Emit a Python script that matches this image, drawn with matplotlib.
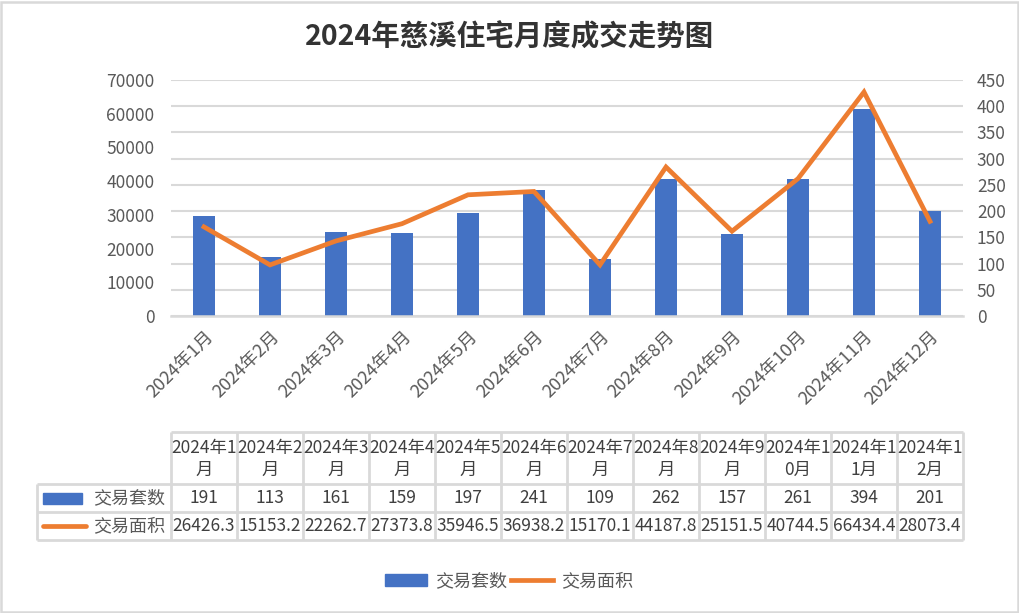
import matplotlib
matplotlib.use("Agg")
import matplotlib.pyplot as plt
from matplotlib.patches import Rectangle
from matplotlib.lines import Line2D
import numpy as np

plt.rcParams['font.family'] = ['Noto Sans CJK SC', 'DejaVu Sans']

# ---- data ----
months = ["2024年1月", "2024年2月", "2024年3月", "2024年4月", "2024年5月", "2024年6月",
          "2024年7月", "2024年8月", "2024年9月", "2024年10月", "2024年11月", "2024年12月"]
header_labels = ["2024年1\n月", "2024年2\n月", "2024年3\n月", "2024年4\n月", "2024年5\n月",
                 "2024年6\n月", "2024年7\n月", "2024年8\n月", "2024年9\n月", "2024年1\n0月",
                 "2024年1\n1月", "2024年1\n2月"]
counts = [191, 113, 161, 159, 197, 241, 109, 262, 157, 261, 394, 201]
areas = [26426.3, 15153.2, 22262.7, 27373.8, 35946.5, 36938.2, 15170.1, 44187.8,
         25151.5, 40744.5, 66434.4, 28073.4]
count_label = "交易套数"
area_label = "交易面积"
title = "2024年慈溪住宅月度成交走势图"
left_ticks = [0, 10000, 20000, 30000, 40000, 50000, 60000, 70000]
right_ticks = [0, 50, 100, 150, 200, 250, 300, 350, 400, 450]

# ---- style ----
W, H = 1020, 613
BLUE = "#4472C4"
ORANGE = "#ED7D31"
GRID = "#D9D9D9"
TXT = "#595959"
TTXT = "#404040"
FS = 12.5
FSC = 13

fig = plt.figure(figsize=(W / 100, H / 100), dpi=100)
fig.patch.set_facecolor("white")
fig.add_artist(Rectangle((0.001, 0.002), 0.997, 0.995, transform=fig.transFigure,
                         fill=False, edgecolor=GRID, lw=1.8))

L, R, T, B = 171, 963, 80, 316
ax = fig.add_axes([L / W, 1 - B / H, (R - L) / W, (B - T) / H])
ax2 = ax.twinx()

x = np.arange(len(months))

# bars on the (right-ticked) count scale
ax.bar(x, counts, width=0.32, color=BLUE, zorder=2)
ax.set_ylim(0, 450)
ax.set_xlim(-0.5, len(months) - 0.5)
ax.yaxis.tick_right()
ax.set_yticks(right_ticks)
ax.grid(axis="y", color=GRID, lw=1.5, zorder=0)
ax.set_axisbelow(True)

# line on the (left-ticked) area scale
ax2.plot(x, areas, color=ORANGE, lw=3.4, solid_joinstyle="miter", zorder=3)
ax2.set_ylim(0, 70000)
ax2.yaxis.tick_left()
ax2.set_yticks(left_ticks)

for a in (ax, ax2):
    for s in a.spines.values():
        s.set_visible(False)
    a.tick_params(axis="y", length=0, labelsize=FS, labelcolor=TXT)
ax.tick_params(axis="y", pad=10)
ax2.tick_params(axis="y", pad=12)

ax.spines["bottom"].set_visible(True)
ax.spines["bottom"].set_color(GRID)
ax.spines["bottom"].set_linewidth(1.8)
ax.set_xticks(np.arange(-0.5, len(months), 1.0))
ax.set_xticklabels([])
ax.tick_params(axis="x", which="major", length=6, width=1.5, color=GRID)
ax.set_xticks(x, minor=True)
ax.set_xticklabels(months, minor=True, rotation=45, ha="right", rotation_mode="anchor",
                   fontsize=FSC, color=TXT)
ax.tick_params(axis="x", which="minor", length=0, pad=8)
ax2.set_xticks([])

fig.text(0.5, 1 - 37 / H, title, ha="center", va="center", fontsize=20.5,
         fontweight="bold", color="#333333")

# ---- data table (overlay in pixel coords) ----
ov = fig.add_axes([0, 0, 1, 1], facecolor="none")
ov.set_xlim(0, W)
ov.set_ylim(H, 0)
ov.axis("off")

cw = (R - L) / len(months)
cols = [L + cw * i for i in range(len(months) + 1)]
ty0, ty1, ty2, ty3 = 432, 484, 512, 540
lx = 37
lc = dict(color=GRID, lw=2, solid_capstyle="butt")
ov.plot([L, R], [ty0, ty0], **lc)
for yy in (ty1, ty2, ty3):
    ov.plot([lx, R], [yy, yy], **lc)
for cx in cols:
    ov.plot([cx, cx], [ty0, ty3], **lc)
ov.plot([lx, lx], [ty1, ty3], **lc)

for i in range(len(months)):
    cx = (cols[i] + cols[i + 1]) / 2
    ov.text(cx, (ty0 + ty1) / 2 + 1, header_labels[i], ha="center", va="center",
            fontsize=FS, color=TTXT, linespacing=1.25)
    ov.text(cx, (ty1 + ty2) / 2, f"{counts[i]}", ha="center", va="center",
            fontsize=FS, color=TTXT)
    ov.text(cx, (ty2 + ty3) / 2, f"{areas[i]:.1f}", ha="center", va="center",
            fontsize=FS, color=TTXT)

ov.add_patch(Rectangle((43, (ty1 + ty2) / 2 - 5.5), 39, 11, color=BLUE))
ov.plot([43, 86], [(ty2 + ty3) / 2, (ty2 + ty3) / 2], color=ORANGE, lw=3.4,
        solid_capstyle="round")
ov.text(93, (ty1 + ty2) / 2, count_label, ha="left", va="center", fontsize=FSC, color=TXT)
ov.text(93, (ty2 + ty3) / 2, area_label, ha="left", va="center", fontsize=FSC, color=TXT)

# ---- legend ----
handles = [Rectangle((0, 0), 1, 1, color=BLUE), Line2D([0], [0], color=ORANGE, lw=3.4)]
fig.legend(handles, [count_label, area_label], loc="center",
           bbox_to_anchor=(509 / W, 1 - 581 / H), ncol=2, frameon=False, fontsize=FSC,
           labelcolor=TXT, handlelength=2.3, handleheight=0.65, columnspacing=0.25,
           handletextpad=0.45)

fig.savefig("out.png", dpi=100)
